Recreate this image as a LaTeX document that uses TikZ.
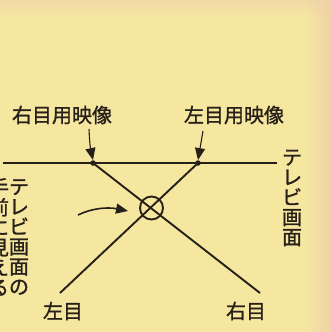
\documentclass[tikz,border=0pt]{standalone}
\usepackage{fontspec}
\newfontfamily\jp[FakeBold=1.2]{Noto Sans CJK JP}
\usetikzlibrary{arrows.meta,fadings}
\definecolor{bgy}{RGB}{245,231,160}
\definecolor{bgp}{RGB}{240,205,172}
\definecolor{ink}{RGB}{38,32,24}
\tikzset{
  lbl/.style={font=\jp\fontsize{20}{20}\selectfont, text=ink, inner sep=0pt},
  vlbl/.style={lbl, align=center},
  ln/.style={draw=ink, line width=1.9pt},
  ptr/.style={draw=ink, line width=1.1pt, -{Triangle[length=12pt,width=10pt]}},
  dot/.style={circle, fill=ink, inner sep=0pt, minimum size=5.5pt},
}
\begin{document}
\begin{tikzpicture}[x=1pt,y=-1pt]
\useasboundingbox (0,0) rectangle (331,332);
\fill[bgy] (0,0) rectangle (331,332);
\fill[bgp, path fading=west, opacity=0.8] (305,0) rectangle (331,332);
\fill[bgp, path fading=south, opacity=0.5] (0,0) rectangle (331,16);
% points
\coordinate (sl) at (3,163);
\coordinate (sr) at (277,163);
\node[dot] (ri) at (93,163) {};
\node[dot] (li) at (198,163) {};
\coordinate (le) at (60,293);
\coordinate (re) at (260,293);
\node[circle, draw=ink, line width=1.9pt, minimum size=23pt, inner sep=0pt] (cx) at (151.5,208) {};
% lines
\draw[ln] (sl) -- (sr);
\draw[ln] (ri.center) -- (re);
\draw[ln] (li.center) -- (le);
% labels
\node[lbl] (rl) at (62,115) {右目用映像};
\node[lbl] (ll) at (234,115) {左目用映像};
\node[lbl] (lel) at (63,311) {左目};
\node[lbl] (rel) at (246,311) {右目};
\node[vlbl] (tv) at (292,198) {テ\\レ\\ビ\\画\\面};
\node[vlbl] (fr1) at (19,237) {テ\\レ\\ビ\\画\\面\\の};
\node[vlbl] (fr2) at (-1,237) {手\\前\\に\\見\\え\\る};
% arrows
\coordinate (a1) at (89,129);
\coordinate (a2) at (203,131);
\coordinate (a3) at (78,215);
\draw[ptr] (a1) to[bend right=5] (ri.north);
\draw[ptr] (a2) -- (li.north);
\draw[ptr, line width=1.6pt] (a3) .. controls (92,208) and (108,207) .. (128,211);
\end{tikzpicture}
\end{document}
